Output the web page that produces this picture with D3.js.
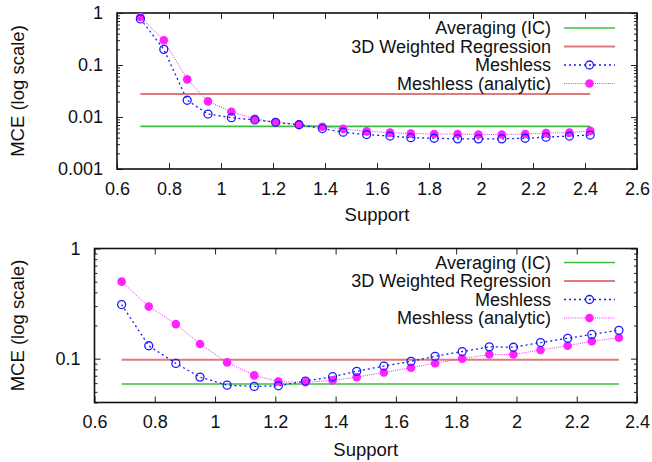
<!DOCTYPE html>
<html>
<head>
<meta charset="utf-8">
<script src="https://cdn.jsdelivr.net/npm/d3@7"></script>
<style>
  body { margin: 0; background: #fff; }
  svg { font-family: "Liberation Sans", Arial, sans-serif; }
</style>
</head>
<body>
<svg id="chart" width="652" height="462"></svg>
<script>
// ---- data ----
const supportTop = [0.69, 0.78, 0.87, 0.95, 1.04, 1.13, 1.21, 1.30, 1.39, 1.47, 1.56,
                    1.65, 1.73, 1.82, 1.91, 1.99, 2.08, 2.17, 2.25, 2.34, 2.42];
const meshlessTop = [0.77, 0.20, 0.021, 0.0114, 0.0097, 0.0088, 0.0079, 0.0071, 0.0060, 0.0051, 0.0046,
                     0.0043, 0.0040, 0.0039, 0.0038, 0.0038, 0.0038, 0.0039, 0.0041, 0.0043, 0.0045];
const analyticTop = [0.84, 0.30, 0.053, 0.020, 0.0126, 0.0092, 0.0079, 0.0072, 0.0065, 0.0059, 0.0053,
                     0.0050, 0.0048, 0.0047, 0.0047, 0.0046, 0.0046, 0.0047, 0.0049, 0.0050, 0.0054];
const averagingTop = 0.0066;
const regressionTop = 0.0277;

const supportBottom = [0.69, 0.78, 0.87, 0.95, 1.04, 1.13, 1.21, 1.30, 1.39, 1.47,
                       1.56, 1.65, 1.73, 1.82, 1.91, 1.99, 2.08, 2.17, 2.25, 2.34];
const meshlessBottom = [0.31, 0.131, 0.0906, 0.068, 0.0575, 0.056, 0.0567, 0.0626, 0.0686, 0.0767,
                        0.0857, 0.0945, 0.105, 0.116, 0.128, 0.127, 0.14, 0.153, 0.166, 0.181];
const analyticBottom = [0.50, 0.297, 0.206, 0.136, 0.0925, 0.0705, 0.062, 0.061, 0.0635, 0.068,
                        0.075, 0.0828, 0.091, 0.100, 0.109, 0.109, 0.12, 0.131, 0.144, 0.155];
const averagingBottom = 0.0588;
const regressionBottom = 0.098;

const legendLabels = ["Averaging (IC)", "3D Weighted Regression", "Meshless", "Meshless (analytic)"];
const xTicksTop = [0.6, 0.8, 1, 1.2, 1.4, 1.6, 1.8, 2, 2.2, 2.4, 2.6];
const xTicksBottom = [0.6, 0.8, 1, 1.2, 1.4, 1.6, 1.8, 2, 2.2, 2.4];
const yTicksTop = [1, 0.1, 0.01, 0.001];
const yTicksBottom = [1, 0.1];

const colors = { avg: "#3cbf3c", reg: "#dd7a7a", mesh: "#1a1aff", ana: "#ff22ff" };

const svg = d3.select("#chart");

function drawPanel(cfg) {
    const g = svg.append("g").attr("transform", `translate(${cfg.left},${cfg.top})`);
    const w = cfg.right - cfg.left, h = cfg.bottom - cfg.top;

    const x = d3.scaleLinear().domain(cfg.xDomain).range([0, w]);
    const y = d3.scaleLog().domain(cfg.yDomain).range([h, 0]);

    // minor log ticks (non powers of ten)
    const minor = y.ticks().filter(v => Math.abs(Math.log10(v) - Math.round(Math.log10(v))) > 1e-6);

    // axes: ticks point inward, mirrored on all sides
    const fmt = d => String(+d.toPrecision(3));
    g.append("g").attr("class", "ax").attr("transform", `translate(0,${h})`)
        .call(d3.axisBottom(x).tickValues(cfg.xTicks).tickFormat(fmt).tickSizeInner(-6).tickSizeOuter(0).tickPadding(13));
    g.append("g").attr("class", "ax")
        .call(d3.axisTop(x).tickValues(cfg.xTicks).tickFormat("").tickSizeInner(-6).tickSizeOuter(0));
    g.append("g").attr("class", "ax")
        .call(d3.axisLeft(y).tickValues(cfg.yTicks).tickFormat(fmt).tickSizeInner(-6).tickSizeOuter(0).tickPadding(14));
    g.append("g").attr("class", "ax").attr("transform", `translate(${w},0)`)
        .call(d3.axisRight(y).tickValues(cfg.yTicks).tickFormat("").tickSizeInner(-6).tickSizeOuter(0));
    g.append("g").attr("class", "ax")
        .call(d3.axisLeft(y).tickValues(minor).tickFormat("").tickSizeInner(-3).tickSizeOuter(0));
    g.append("g").attr("class", "ax").attr("transform", `translate(${w},0)`)
        .call(d3.axisRight(y).tickValues(minor).tickFormat("").tickSizeInner(-3).tickSizeOuter(0));

    g.selectAll(".ax .domain").remove();
    g.selectAll(".ax line").attr("stroke", "#222").attr("stroke-width", 1);
    g.selectAll(".ax text").attr("font-size", 18).attr("fill", "#111")
        .attr("font-family", "Liberation Sans, Arial, sans-serif");

    // frame
    g.append("rect").attr("width", w).attr("height", h)
        .attr("fill", "none").attr("stroke", "#111").attr("stroke-width", 1.6);

    // horizontal reference lines
    const x0 = cfg.support[0], x1 = cfg.support[cfg.support.length - 1];
    g.append("line").attr("x1", x(x0)).attr("x2", x(x1))
        .attr("y1", y(cfg.averaging)).attr("y2", y(cfg.averaging))
        .attr("stroke", colors.avg).attr("stroke-width", 1.6);
    g.append("line").attr("x1", x(x0)).attr("x2", x(x1))
        .attr("y1", y(cfg.regression)).attr("y2", y(cfg.regression))
        .attr("stroke", colors.reg).attr("stroke-width", 2);

    const line = d3.line().x(d => x(d[0])).y(d => y(d[1]));
    const mesh = cfg.support.map((s, i) => [s, cfg.meshless[i]]);
    const ana = cfg.support.map((s, i) => [s, cfg.analytic[i]]);

    g.append("path").datum(ana).attr("d", line).attr("fill", "none")
        .attr("stroke", colors.ana).attr("stroke-width", 1).attr("stroke-dasharray", "1,1.2");
    g.append("path").datum(mesh).attr("d", line).attr("fill", "none")
        .attr("stroke", colors.mesh).attr("stroke-width", 1.3).attr("stroke-dasharray", "2,3");

    g.selectAll(".ana").data(ana).enter().append("circle")
        .attr("cx", d => x(d[0])).attr("cy", d => y(d[1])).attr("r", 4.3)
        .attr("fill", colors.ana);
    g.selectAll(".mesh").data(mesh).enter().append("circle")
        .attr("cx", d => x(d[0])).attr("cy", d => y(d[1])).attr("r", 4)
        .attr("fill", "none").attr("stroke", colors.mesh).attr("stroke-width", 1.3);

    // axis titles
    g.append("text").attr("x", w / 2).attr("y", cfg.xLabelY - cfg.top)
        .attr("text-anchor", "middle").attr("font-size", 18.5).attr("fill", "#111").text("Support");
    g.append("text").attr("transform", `translate(${24 - cfg.left},${h / 2}) rotate(-90)`)
        .attr("text-anchor", "middle").attr("font-size", 18.5).attr("fill", "#111").text("MCE (log scale)");

    // legend
    const lg = svg.append("g");
    legendLabels.forEach((lab, i) => {
        const yy = cfg.legendY + i * 18.5;
        lg.append("text").attr("x", 551).attr("y", yy).attr("dy", "0.35em")
            .attr("text-anchor", "end").attr("font-size", 18).attr("fill", "#111").text(lab);
        const ln = lg.append("line").attr("x1", 564).attr("x2", 615).attr("y1", yy).attr("y2", yy);
        if (i === 0) ln.attr("stroke", colors.avg).attr("stroke-width", 1.6);
        if (i === 1) ln.attr("stroke", colors.reg).attr("stroke-width", 2);
        if (i === 2) {
            ln.attr("stroke", colors.mesh).attr("stroke-width", 1.3).attr("stroke-dasharray", "2,3");
            lg.append("circle").attr("cx", 589.5).attr("cy", yy).attr("r", 4)
                .attr("fill", "none").attr("stroke", colors.mesh).attr("stroke-width", 1.3);
        }
        if (i === 3) {
            ln.attr("stroke", colors.ana).attr("stroke-width", 1).attr("stroke-dasharray", "1,1.2");
            lg.append("circle").attr("cx", 589.5).attr("cy", yy).attr("r", 4.3).attr("fill", colors.ana);
        }
    });
}

drawPanel({
    left: 117, right: 637, top: 13, bottom: 169,
    xDomain: [0.6, 2.6], yDomain: [0.001, 1],
    xTicks: xTicksTop, yTicks: yTicksTop,
    support: supportTop, meshless: meshlessTop, analytic: analyticTop,
    averaging: averagingTop, regression: regressionTop,
    xLabelY: 221, legendY: 28
});

drawPanel({
    left: 94.5, right: 637, top: 248.5, bottom: 402.5,
    xDomain: [0.6, 2.4], yDomain: [0.04, 1],
    xTicks: xTicksBottom, yTicks: yTicksBottom,
    support: supportBottom, meshless: meshlessBottom, analytic: analyticBottom,
    averaging: averagingBottom, regression: regressionBottom,
    xLabelY: 456, legendY: 262.5
});
</script>
</body>
</html>
